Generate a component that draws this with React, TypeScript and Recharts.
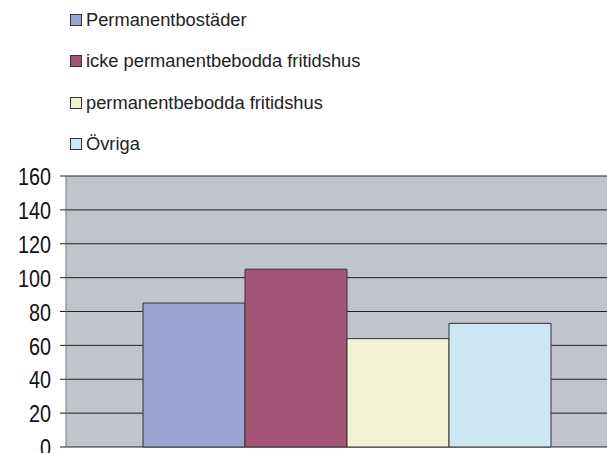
import React from 'react';
import { BarChart, Bar, XAxis, YAxis, CartesianGrid, Legend } from 'recharts';

const categories = [''];
const seriesNames = ['Permanentbostäder', 'icke permanentbebodda fritidshus', 'permanentbebodda fritidshus', 'Övriga'];
const seriesKeys = ['perm', 'icke', 'permfrit', 'ovriga'];
const seriesValues = [85, 105, 64, 73];
const seriesColors = ['#9AA5D4', '#A25577', '#F3F1D3', '#CCE7F3'];
const yTicks = [0, 20, 40, 60, 80, 100, 120, 140, 160];

const data = categories.map((name) => {
  const row: Record<string, string | number> = { name };
  seriesKeys.forEach((k, i) => {
    row[k] = seriesValues[i];
  });
  return row;
});

const FONT = '"Liberation Sans", Arial, sans-serif';

const YTick = (props: any) => {
  const { x, y, payload } = props;
  return (
    <text
      transform={`translate(${x},${y + 1}) scale(0.86,1)`}
      textAnchor="end"
      dy="0.355em"
      fontSize={23}
      fontFamily={FONT}
      fill="#111"
    >
      {payload.value}
    </text>
  );
};

const LegendContent = (props: any) => {
  const payload = props.payload || [];
  return (
    <div style={{ position: 'relative', width: 400, height: 160 }}>
      {payload.map((p: any, i: number) => (
        <div
          key={i}
          style={{
            position: 'absolute',
            left: 70,
            top: 19.5 + i * 41.5 - 11,
            height: 22,
            display: 'flex',
            alignItems: 'center',
            whiteSpace: 'nowrap',
          }}
        >
          <span
            style={{
              display: 'inline-block',
              width: 10,
              height: 10,
              background: p.color,
              border: '1px solid #333',
              marginRight: 4,
            }}
          />
          <span style={{ fontFamily: FONT, fontSize: 18.3, color: '#222' }}>{p.value}</span>
        </div>
      ))}
    </div>
  );
};

export default function App() {
  return (
    <div style={{ position: 'fixed', left: 0, top: 0, width: 607, height: 453, overflow: 'hidden', background: '#fff' }}>
      <BarChart
        width={640}
        height={460}
        data={data}
        margin={{ top: 176, right: 14, bottom: 13, left: 0 }}
        barGap={0}
        barCategoryGap={77}
      >
        <CartesianGrid vertical={false} stroke="#222" fill="#C0C5CC" strokeOpacity={1} />
        <XAxis dataKey="name" hide />
        <YAxis
          width={66}
          domain={[0, 160]}
          ticks={yTicks}
          interval={0}
          tickSize={6}
          tickMargin={9}
          tick={<YTick />}
          axisLine={{ stroke: '#777' }}
          tickLine={{ stroke: '#222' }}
        />
        <Legend
          layout="vertical"
          align="center"
          verticalAlign="middle"
          wrapperStyle={{ top: 0, left: 0, width: 400, height: 160 }}
          content={<LegendContent />}
        />
        {seriesKeys.map((k, i) => (
          <Bar
            key={k}
            dataKey={k}
            name={seriesNames[i]}
            fill={seriesColors[i]}
            stroke="#333"
            strokeWidth={1}
            isAnimationActive={false}
          />
        ))}
      </BarChart>
    </div>
  );
}
